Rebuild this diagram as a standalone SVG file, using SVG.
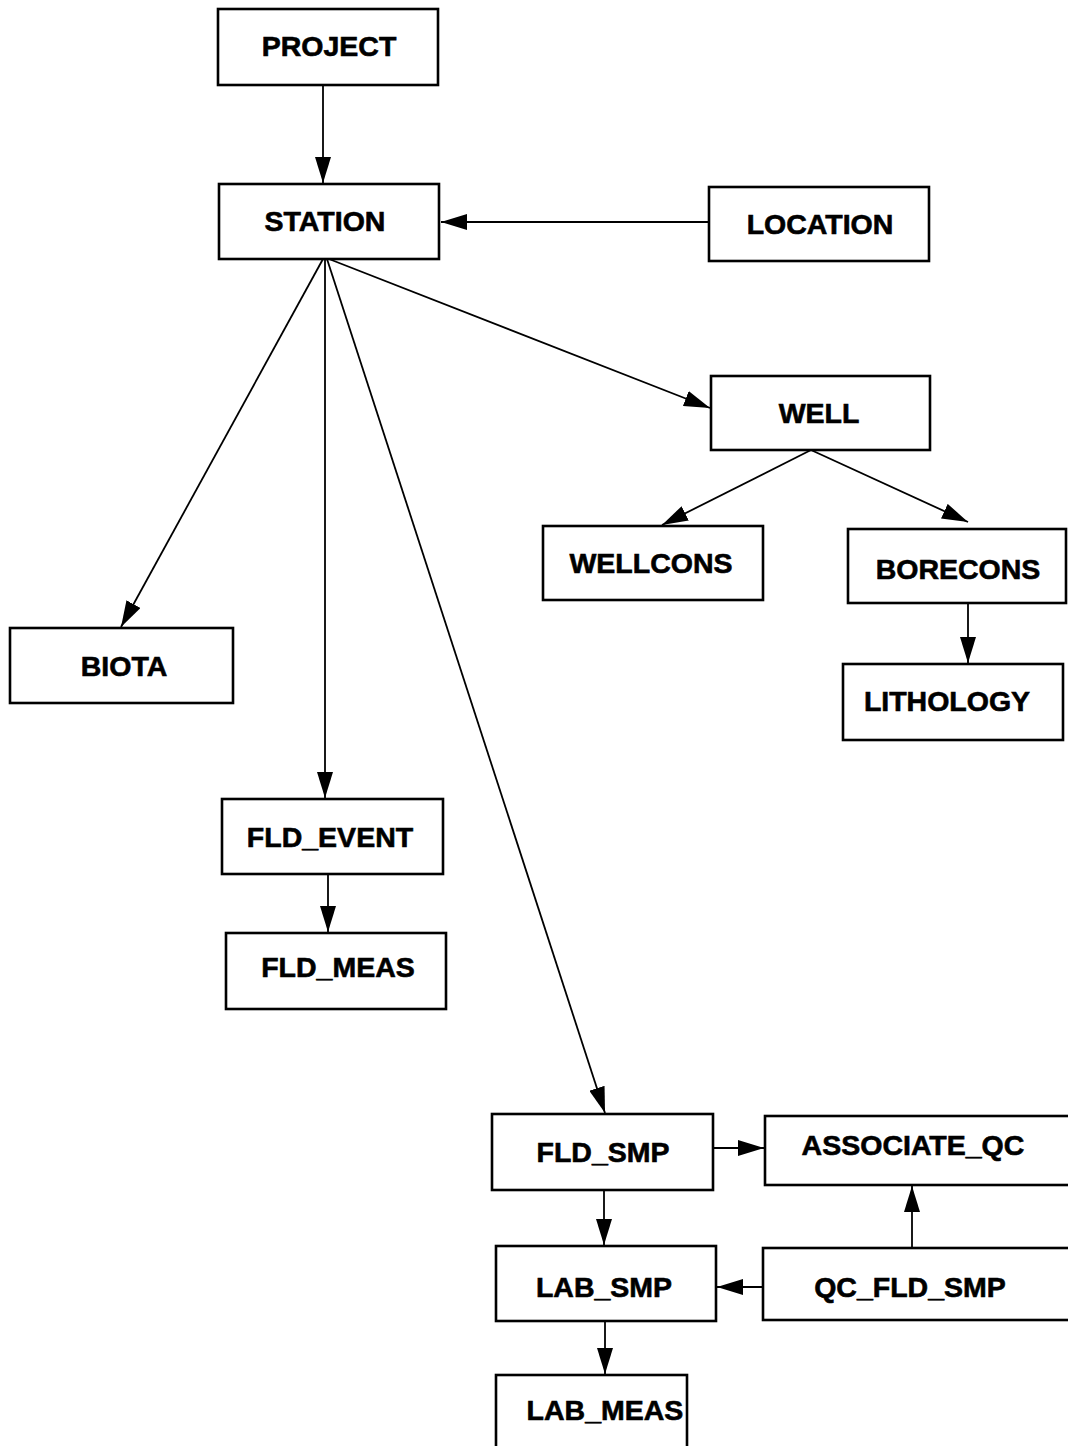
<svg xmlns="http://www.w3.org/2000/svg" width="1068" height="1446" viewBox="0 0 1068 1446">
<style>
.box{fill:#fff;stroke:#000;stroke-width:2.6}
.lbl{font-family:"Liberation Sans",Arial,sans-serif;font-weight:bold;font-size:28.5px;fill:#000;stroke:#000;stroke-width:0.6;text-anchor:middle}
.con{fill:none;stroke:#000;stroke-width:1.8;marker-end:url(#ah)}
</style>
<defs>
<marker id="ah" viewBox="0 0 26 16" refX="26" refY="8" markerWidth="26" markerHeight="16" markerUnits="userSpaceOnUse" orient="auto">
<path d="M0,0 L26,8 L0,16 z" fill="#000"/>
</marker>
</defs>
<rect width="1068" height="1446" fill="#fff"/>
<g id="connectors">
<line class="con" x1="323" y1="85" x2="323" y2="183"/>
<line class="con" x1="709" y1="222" x2="441" y2="222"/>
<line class="con" x1="323" y1="259" x2="121" y2="627"/>
<line class="con" x1="325" y1="259" x2="325" y2="798"/>
<line class="con" x1="327" y1="259" x2="605" y2="1113"/>
<line class="con" x1="329" y1="259" x2="710" y2="408"/>
<line class="con" x1="811" y1="450" x2="662" y2="525"/>
<line class="con" x1="811" y1="450" x2="968" y2="522"/>
<line class="con" x1="968" y1="603" x2="968" y2="663"/>
<line class="con" x1="328" y1="874" x2="328" y2="932"/>
<line class="con" x1="713" y1="1148" x2="764" y2="1148"/>
<line class="con" x1="604" y1="1190" x2="604" y2="1245"/>
<line class="con" x1="763" y1="1287" x2="717" y2="1287"/>
<line class="con" x1="912" y1="1247" x2="912" y2="1186"/>
<line class="con" x1="605" y1="1321" x2="605" y2="1374"/>
</g>
<g id="n-project"><rect class="box" x="218" y="9" width="220" height="76"/><text class="lbl" x="329" y="56">PROJECT</text></g>
<g id="n-station"><rect class="box" x="219" y="184" width="220" height="75"/><text class="lbl" x="325" y="231">STATION</text></g>
<g id="n-location"><rect class="box" x="709" y="187" width="220" height="74"/><text class="lbl" x="820" y="234">LOCATION</text></g>
<g id="n-well"><rect class="box" x="711" y="376" width="219" height="74"/><text class="lbl" x="819" y="423">WELL</text></g>
<g id="n-wellcons"><rect class="box" x="543" y="526" width="220" height="74"/><text class="lbl" x="651" y="573">WELLCONS</text></g>
<g id="n-borecons"><rect class="box" x="848" y="529" width="218" height="74"/><text class="lbl" x="958" y="579">BORECONS</text></g>
<g id="n-lithology"><rect class="box" x="843" y="664" width="220" height="76"/><text class="lbl" x="947" y="711">LITHOLOGY</text></g>
<g id="n-biota"><rect class="box" x="10" y="628" width="223" height="75"/><text class="lbl" x="124" y="676">BIOTA</text></g>
<g id="n-fld-event"><rect class="box" x="222" y="799" width="221" height="75"/><text class="lbl" x="330" y="847">FLD_EVENT</text></g>
<g id="n-fld-meas"><rect class="box" x="226" y="933" width="220" height="76"/><text class="lbl" x="338" y="977">FLD_MEAS</text></g>
<g id="n-fld-smp"><rect class="box" x="492" y="1114" width="221" height="76"/><text class="lbl" x="603" y="1162">FLD_SMP</text></g>
<g id="n-associate-qc"><rect class="box" x="765" y="1116" width="310" height="69"/><text class="lbl" x="913" y="1155">ASSOCIATE_QC</text></g>
<g id="n-lab-smp"><rect class="box" x="496" y="1246" width="220" height="75"/><text class="lbl" x="604" y="1297">LAB_SMP</text></g>
<g id="n-qc-fld-smp"><rect class="box" x="763" y="1248" width="312" height="72"/><text class="lbl" x="910" y="1297">QC_FLD_SMP</text></g>
<g id="n-lab-meas"><rect class="box" x="496" y="1375" width="191" height="80"/><text class="lbl" x="605" y="1420">LAB_MEAS</text></g>
</svg>
